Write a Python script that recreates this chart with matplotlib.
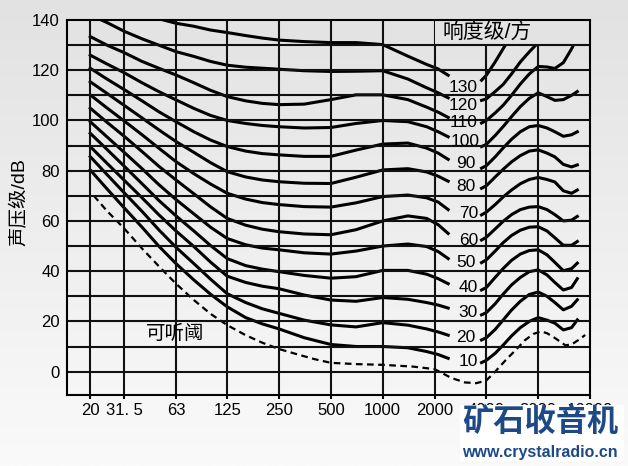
import numpy as np
import matplotlib.pyplot as plt
from matplotlib.patches import Rectangle
from matplotlib.colors import LinearSegmentedColormap
from matplotlib.ticker import NullLocator

plt.rcParams['font.family'] = ['Liberation Sans', 'Noto Sans CJK SC']

# axis ticks
X_TICKS = [20, 31.5, 63, 125, 250, 500, 1000, 2000, 4000, 8000, 16000]
X_LABELS = ['20', '31. 5', '63', '125', '250', '500', '1000', '2000', '4000', '8000', '16000']
Y_TICKS = [0, 20, 40, 60, 80, 100, 120, 140]
GRID_DB = [0, 10, 20, 30, 40, 50, 60, 70, 80, 90, 100, 110, 120, 130]

# equal-loudness contours (Hz, dB)
PHONS = [130, 120, 110, 100, 90, 80, 70, 60, 50, 40, 30, 20, 10]

# left part (up to the label)
L_FREQ = [20, 25, 31.5, 40, 50, 63, 80, 100, 125, 160, 200, 250, 350, 500, 700, 1000, 1400, 1800, 2100, 2400]
L_130 = [np.nan, np.nan, np.nan, 143.5, 140.5, 138.7, 137.5, 136, 135, 133.8, 132.8, 132, 131.4, 131, 131, 130.2, 125.6, 122.3, 120.5, 118]
L_120 = [142, 139, 135.5, 132.5, 130, 127.4, 125.5, 123.5, 122, 121.2, 120.8, 120.4, 119.8, 119.5, 119.6, 119.8, 116.5, 113, 111, 109]
L_110 = [133.4, 130, 127, 123.5, 120.8, 118.1, 115, 112, 109.5, 107.8, 106.8, 106.3, 106.5, 108.3, 110.2, 110.2, 108.3, 105.3, 103.3, 101.2]
L_100 = [126, 122.5, 119, 115, 111.5, 108.2, 104.8, 102, 100, 98.8, 98, 97.5, 97, 97.2, 98.8, 100, 99.5, 97.5, 95.5, 93.5]
L_90 = [120.8, 116.5, 112.3, 107.8, 103.5, 99.5, 95.5, 92.2, 89.6, 87.8, 86.8, 86.3, 85.7, 85.7, 88.2, 90.6, 91, 89, 87, 84.5]
L_80 = [115.4, 110.8, 106, 101, 96.3, 91.6, 87.3, 83.2, 79.6, 77.5, 76.3, 75.6, 75, 74.9, 77.4, 80.3, 80.8, 79.5, 77.8, 75.8]
L_70 = [110.2, 105, 99.8, 94.3, 89, 83.6, 78.8, 74.7, 71, 68.7, 67.3, 66.5, 65.7, 65.5, 67.2, 69.7, 70.3, 69.2, 67.5, 64.5]
L_60 = [104.9, 99.3, 93.7, 87.6, 81.8, 76.3, 70.8, 65.6, 61, 58.3, 56.7, 55.7, 54.8, 54.5, 56.5, 60, 62, 61, 58.5, 55]
L_50 = [99.5, 93.5, 87.3, 80.8, 74.5, 68.5, 62.8, 57.5, 53, 50.5, 49.2, 48.5, 47.3, 46.8, 48, 50, 50.8, 49.8, 47.8, 45]
L_40 = [94.9, 88.5, 81.8, 74.8, 68.2, 62, 56, 50.2, 45, 42.2, 40.8, 39.8, 38.3, 37.2, 37.8, 40.3, 40.3, 38.8, 37, 35]
L_30 = [89.6, 83, 76.2, 69.2, 62.5, 56, 49.8, 43.6, 38, 35.5, 34, 33, 30.5, 28.5, 28, 29.5, 28.8, 27.5, 26.5, 25.3]
L_20 = [85.6, 78.5, 71.2, 63.8, 56.5, 49.5, 43, 36.8, 31, 27.5, 25, 23.2, 20.5, 18.6, 17.8, 19.5, 18.5, 17, 15.8, 14.5]
L_10 = [80.3, 72.8, 65.2, 57.5, 50, 43, 36.5, 30.8, 25.8, 21.5, 19, 17, 13.5, 10.8, 10, 10, 9.5, 8, 6.8, 5.3]

# right part (after the label)
R_FREQ = [3750, 4000, 4500, 5000, 5600, 6300, 7100, 8000, 9000, 10000, 11200, 12500, 13500]
R_130 = [116, 118, 123.3, 128.5, 134, np.nan, np.nan, np.nan, np.nan, np.nan, np.nan, np.nan, np.nan]
R_120 = [108, 108.6, 111.5, 114.3, 118.5, 123.3, 127.3, 131, np.nan, np.nan, np.nan, np.nan, np.nan]
R_110 = [99, 100, 103, 106, 110, 114.5, 118.5, 121.5, 121.3, 120.7, 123, 128.5, 133]
R_100 = [89.6, 90.5, 94, 97.5, 101.5, 105.5, 108.8, 111, 109.5, 108, 108.3, 110, 111.5]
R_90 = [81, 82, 85.5, 89, 92.5, 95.5, 97.5, 98, 97, 95.5, 93.7, 94.3, 95.5]
R_80 = [73, 74, 77.5, 80.5, 83.5, 86, 87.8, 88.3, 87, 85.5, 82.5, 81.5, 82.3]
R_70 = [62.4, 63.5, 66.5, 69.5, 72.3, 74.8, 76.5, 77.3, 76.5, 75.5, 72, 71, 72.3]
R_60 = [52.4, 53.5, 56.8, 59.8, 62.5, 64.5, 65.5, 65.7, 64.5, 62.5, 60, 60.3, 61.8]
R_50 = [43.4, 44.5, 48, 51.3, 54.2, 56.3, 57.5, 57.7, 56, 53.3, 50.3, 50.3, 51.8]
R_40 = [32.5, 33.5, 37.5, 41, 44.3, 46.8, 48.2, 48.5, 46.5, 43.5, 40.2, 41, 43.2]
R_30 = [22.6, 23.5, 27, 30.8, 34.5, 37.5, 39.8, 40.5, 38.5, 35.5, 32.5, 33.5, 37]
R_20 = [12.6, 13.5, 16.8, 20.5, 24.5, 28, 30.7, 31.7, 30, 27.5, 24.6, 26, 28.6]
R_10 = [3.6, 4.5, 7.3, 10.5, 14.2, 17.5, 20, 21.5, 20.5, 19.3, 16.6, 17.5, 20.6]

# label positions of the contour values
LABEL_FREQ = [2930, 2930, 2930, 3000, 3056, 3056, 3146, 3146, 3056, 3146, 3146, 3056, 3146]
LABEL_DB = [113.3, 106, 99, 91.6, 82.7, 73.6, 63, 52.4, 43.3, 33.3, 23.4, 13.4, 4]

# hearing threshold (dashed)
T_FREQ = [21, 25, 31.5, 40, 50, 63, 80, 100, 125, 160, 200, 250, 315, 400, 500, 700, 1000, 1500,
          2000, 2500, 3000, 3500, 4000, 4500, 5200, 6000, 6700, 7500, 8300, 9000, 10000, 11500,
          12500, 14000, 15000]
T_DB = [70, 64, 57, 49, 42, 35, 28.5, 23, 18.5, 14.5, 11.5, 9, 7, 5, 3.5, 3, 2.7, 2,
        1, -2.5, -4.3, -4.6, -3.5, 0, 4.7, 9, 12.5, 15, 16, 15.3, 13.4, 10.5,
        10.8, 13, 14.6]

left = [L_130, L_120, L_110, L_100, L_90, L_80, L_70, L_60, L_50, L_40, L_30, L_20, L_10]
right = [R_130, R_120, R_110, R_100, R_90, R_80, R_70, R_60, R_50, R_40, R_30, R_20, R_10]

fig = plt.figure(figsize=(6.28, 4.66), dpi=100)

# light grey background, a bit lighter at the bottom
bg = fig.add_axes([0, 0, 1, 1], zorder=-10)
cmap = LinearSegmentedColormap.from_list('bg', ['#e2e2e2', '#fafafa'])
bg.imshow(np.linspace(0, 1, 256)[:, None], cmap=cmap, aspect='auto', extent=[0, 1, 0, 1])
bg.axis('off')

ax = fig.add_axes([0.1062, 0.1524, 0.8333, 0.8047])
ax.set_facecolor('none')
ax.set_xscale('log')
ax.set_xlim(14.6, 16000)
ax.set_ylim(-9.3, 140)

# grid
for d in GRID_DB:
    ax.axhline(d, color='#111111', lw=1.5, zorder=4)
for f in X_TICKS[:-1]:
    ax.axvline(f, color='#111111', lw=1.5, zorder=2.5)

# contours
for yl, yr in zip(left, right):
    ax.plot(L_FREQ, yl, color='black', lw=2.2, zorder=2)
    ax.plot(R_FREQ, yr, color='black', lw=2.2, zorder=2)
ax.plot(T_FREQ, T_DB, color='black', lw=1.6, ls=(0, (3, 2)), zorder=2)

# title cell at the top right
ax.add_patch(Rectangle((2000 * 1.012, 130), 16000 / 1.012 - 2000 * 1.012, 10,
                       facecolor='#e3e3e3', edgecolor='none', zorder=3))
ax.text(2230, 135.2, '响度级/方', fontsize=15, ha='left', va='center', zorder=5)

for p, fx, fy in zip(PHONS, LABEL_FREQ, LABEL_DB):
    ax.text(fx, fy, str(p), fontsize=12.5, ha='center', va='center', zorder=5)

ax.text(62, 15, '可听阈', fontsize=14, ha='center', va='center', zorder=5)

ax.set_xticks(X_TICKS, X_LABELS)
ax.xaxis.set_minor_locator(NullLocator())
ax.set_yticks(Y_TICKS)
ax.tick_params(axis='x', length=3, width=1.5, direction='out', labelsize=12, pad=3)
ax.tick_params(axis='y', length=0, labelsize=12, pad=5)
for s in ax.spines.values():
    s.set_linewidth(1.5)
    s.set_zorder(4)

fig.text(19 / 628, 1 - 202 / 466, '声压级/dB', rotation=90, ha='center', va='center', fontsize=14)

# watermark (covers the last x tick labels, as in the original)
fig.add_artist(Rectangle((460 / 628, 5 / 466), 164 / 628, 56 / 466, transform=fig.transFigure,
                         facecolor='white', edgecolor='none', zorder=10))
fig.text(540 / 628, 43 / 466, '矿石收音机', fontsize=22.5, fontweight='heavy', color='#1d4a86',
         ha='center', va='center', family=['Noto Sans CJK SC'], zorder=11)
fig.text(540 / 628, 13.5 / 466, 'www.crystalradio.cn', fontsize=11.5, fontweight='bold',
         color='#1d4a86', ha='center', va='center', zorder=11)

fig.savefig('out.png', dpi=100)
